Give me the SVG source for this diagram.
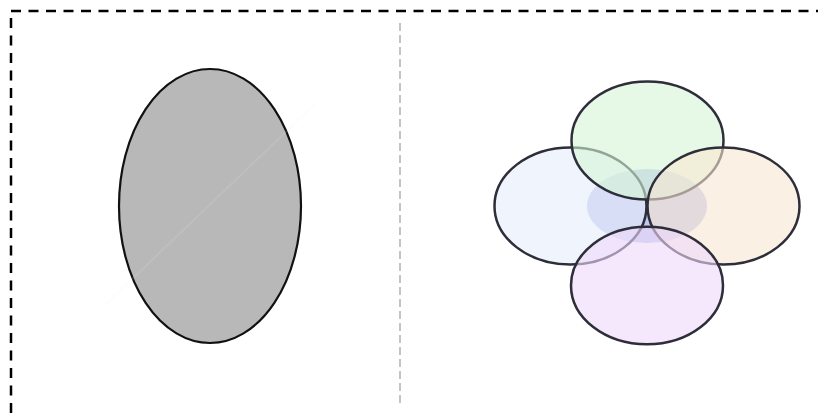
<svg xmlns="http://www.w3.org/2000/svg" width="818" height="413" viewBox="0 0 818 413">
<style>
.frame{fill:none;stroke:#000;stroke-width:2.5;stroke-dasharray:10 7.5}
.divider{fill:none;stroke:#c4c4c4;stroke-width:2;stroke-dasharray:8 4}
.venn{stroke:#2e2e3a;stroke-width:2.5;fill-opacity:0.6}
</style>
<rect width="818" height="413" fill="#fff"/>
<g id="frame">
<line class="frame" x1="11" y1="11" x2="818" y2="11"/>
<line class="frame" x1="11" y1="18" x2="11" y2="413"/>
</g>
<line id="divider" class="divider" x1="400" y1="23" x2="400" y2="406"/>
<g id="left-ellipse">
<ellipse cx="210" cy="206" rx="91" ry="137" fill="#b8b8b8" stroke="#111" stroke-width="2.2"/>
<line x1="105" y1="305" x2="315" y2="104" stroke="#eeeeee" stroke-width="2" stroke-opacity="0.12"/>
</g>
<g id="center">
<ellipse cx="647" cy="206" rx="60" ry="37" fill="#c0c8ee"/>
</g>
<g id="left">
<ellipse class="venn" cx="570.5" cy="206" rx="76" ry="58.5" fill="#e6ecfb"/>
</g>
<g id="top">
<ellipse class="venn" cx="647.5" cy="140.5" rx="76" ry="59" fill="#d5f5d5"/>
</g>
<g id="right">
<ellipse class="venn" cx="723.5" cy="206" rx="76" ry="58.5" fill="#f8e6d2"/>
</g>
<g id="bottom">
<ellipse class="venn" cx="647" cy="285.5" rx="76" ry="58.8" fill="#eed9fa"/>
</g>
</svg>
